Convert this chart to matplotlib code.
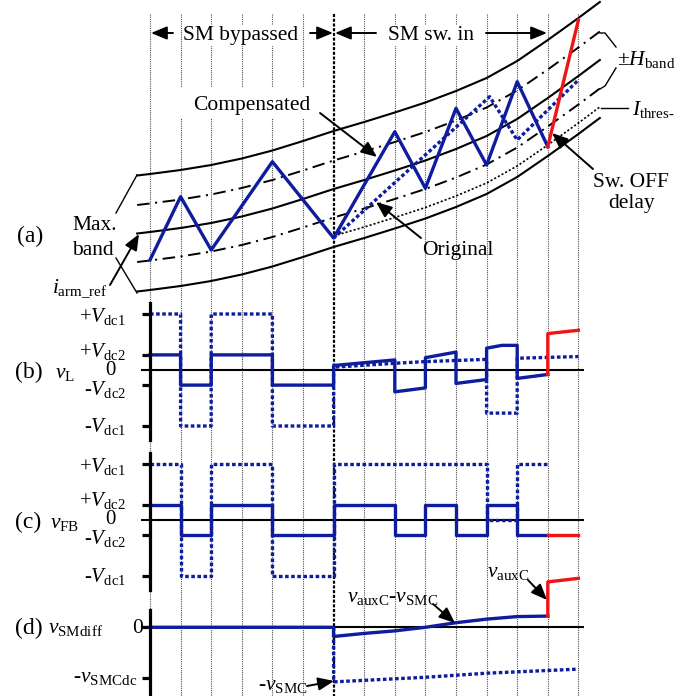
import numpy as np
import matplotlib
matplotlib.use('Agg')
import matplotlib.pyplot as plt
from matplotlib.transforms import Affine2D
from matplotlib.patches import Rectangle

plt.rcParams['font.family'] = ['Liberation Serif', 'DejaVu Serif']
plt.rcParams['mathtext.fontset'] = 'custom'
plt.rcParams['mathtext.rm'] = 'Liberation Serif'
plt.rcParams['mathtext.it'] = 'Liberation Serif:italic'
plt.rcParams['mathtext.bf'] = 'Liberation Serif:bold'
plt.rcParams['mathtext.sf'] = 'Liberation Serif'
plt.rcParams['lines.scale_dashes'] = False

BLUE = '#0E1C9E'
RED = '#F01414'

# ---------------- data ----------------
grid_t = list(range(15))          # switching instants
t_sw_in = 6                        # SM switched in

# (a) arm current (arbitrary units)
ref_t = np.array([-0.42, 0, 1, 2, 3, 4, 5, 6, 7, 8, 9, 10, 11, 12, 13, 14, 14.7])
ref_i = np.array([6.65, 6.8, 7.2, 7.7, 8.35, 9.15, 10.1, 11.1, 12.0, 12.95,
                  13.95, 15.1, 16.4, 18.1, 20.2, 22.4, 24.0])
H_band = 2.85
max_band = 5.8
thres_off = 4.7

comp_t = [0, 1, 2, 4, 6, 8, 9, 10, 11, 12, 13]
comp_i = [4.0, 10.33, 5.0, 13.83, 6.2, 16.83, 11.17, 19.17, 13.5, 21.83, 15.33]
delay_t = [13, 14]
delay_i = [15.33, 28.0]
orig_t = [6, 11.1, 12, 14]
orig_i = [6.2, 20.33, 16.0, 22.0]

# (b) v_L
Vdc1 = 1.0
Vdc2 = 0.27
vL_t = [0, 1, 1, 2, 2, 4, 4, 6, 6, 8, 8, 9, 9, 10, 10, 11, 11, 11.5, 12, 12, 13]
vL_v = [Vdc2, Vdc2, -Vdc2, -Vdc2, Vdc2, Vdc2, -Vdc2, -Vdc2, 0.08, 0.18, -0.39, -0.32,
        0.22, 0.32, -0.24, -0.17, 0.39, 0.44, 0.44, -0.15, -0.08]
vL_red_t = [13, 13, 14]
vL_red_v = [-0.08, 0.65, 0.71]
vL_orig_t = [0, 1, 1, 2, 2, 4, 4, 6, 6, 8, 9, 11, 11, 12, 12, 14]
vL_orig_v = [1, 1, -1, -1, 1, 1, -1, -1, 0.05, 0.12, 0.15, 0.19, -0.77, -0.77, 0.21, 0.24]

# (c) v_FB
vFB_t = [0, 1, 1, 2, 2, 4, 4, 6, 6, 8, 8, 9, 9, 10, 10, 11, 11, 12, 12, 13]
vFB_v = [Vdc2, Vdc2, -Vdc2, -Vdc2, Vdc2, Vdc2, -Vdc2, -Vdc2, Vdc2, Vdc2, -Vdc2, -Vdc2,
         Vdc2, Vdc2, -Vdc2, -Vdc2, Vdc2, Vdc2, -Vdc2, -Vdc2]
vFB_red_t = [13, 14]
vFB_red_v = [-Vdc2, -Vdc2]
vFB_orig_t = [0, 1, 1, 2, 2, 4, 4, 6, 6, 11, 11, 12, 12, 13]
vFB_orig_v = [1, 1, -1, -1, 1, 1, -1, -1, 1, 1, 0, 0, 1, 1]

# (d) v_SMdiff
vSMCdc = 1.0
vd_t = [0, 6, 6, 7, 8, 9, 10, 11, 12, 13]
vd_v = [0, 0, -0.18, -0.12, -0.07, 0.0, 0.09, 0.16, 0.21, 0.22]
vd_red_t = [13, 13, 14]
vd_red_v = [0.22, 0.89, 0.96]
vd_orig_t = [6, 6, 9, 11, 14]
vd_orig_v = [0, -1.07, -0.98, -0.90, -0.82]

# ---------------- figure ----------------
W, H = 698, 696
fig = plt.figure(figsize=(W / 100, H / 100), dpi=100)
px = Affine2D().scale(1 / W, -1 / H).translate(0, 1) + fig.transFigure

X0, DX = 150, 30.6
TL, TR = -X0 / DX, (W - X0) / DX


def make_axes(top, bottom, ylim, z):
    ax = fig.add_axes([0, (H - bottom) / H, 1, (bottom - top) / H], zorder=z)
    ax.set_xlim(TL, TR)
    ax.set_ylim(*ylim)
    ax.patch.set_alpha(0)
    for s in ax.spines.values():
        s.set_visible(False)
    ax.set_xticks([])
    ax.set_yticks([])
    return ax


ax0 = make_axes(0, H, (H, 0), 0)
for t in grid_t:
    if t == t_sw_in:
        ax0.plot([t, t], [14, H], color='k', lw=1.6, ls=(0, (2.2, 1.2)), zorder=2)
    else:
        ax0.plot([t, t], [14, H], color='#505050', lw=0.8, ls=(0, (0.8, 0.8)), zorder=1)
ax0.add_patch(Rectangle((176, 87), 139, 31, transform=px, facecolor='white',
                        edgecolor='none', zorder=3))

LW = 2.4
# ---- (a)
axa = make_axes(0, 300, (0, 30), 2)
kw_dd = dict(color='k', lw=1.4, ls=(0, (9, 4, 1.5, 4)))
axa.plot(ref_t, ref_i + max_band, color='k', lw=1.5)
axa.plot(ref_t, ref_i + H_band, **kw_dd)
axa.plot(ref_t, ref_i, color='k', lw=1.5)
axa.plot(ref_t, ref_i - H_band, **kw_dd)
m = ref_t >= t_sw_in
axa.plot(ref_t[m], ref_i[m] - thres_off, color='k', lw=1.2, ls=(0, (1.5, 1.5)))
axa.plot(ref_t, ref_i - max_band, color='k', lw=1.5)
axa.plot(orig_t, orig_i, color=BLUE, lw=LW, ls=(0, (2.6, 1.8)))
axa.plot(comp_t, comp_i, color=BLUE, lw=LW)
axa.plot(delay_t, delay_i, color=RED, lw=LW)


def vaxis(ax, lo, hi, ticks):
    sp = ax.spines['left']
    sp.set_visible(True)
    sp.set_position(('data', 0))
    sp.set_bounds(lo, hi)
    sp.set_linewidth(2.3)
    ax.set_yticks(ticks)
    ax.set_yticklabels([])
    ax.tick_params(axis='y', direction='out', length=5.8, width=2.3, color='k')
    ax.plot([-0.26, 14.15], [0, 0], color='k', lw=1.5, zorder=1, clip_on=False)


# ---- (b)
axb = make_axes(300, 445, (-75 / 56, 70 / 56), 2)
vaxis(axb, -1.25, 1.196, [Vdc1, Vdc2, -Vdc2, -Vdc1])
axb.plot(vL_orig_t, vL_orig_v, color=BLUE, lw=LW, ls=(0, (2.6, 1.8)), clip_on=False)
axb.plot(vL_t, vL_v, color=BLUE, lw=LW, clip_on=False)
axb.plot(vL_red_t, vL_red_v, color=RED, lw=LW, clip_on=False)

# ---- (c)
axc = make_axes(445, 600, (-80 / 56, 75 / 56), 2)
vaxis(axc, -1.25, 1.196, [Vdc1, Vdc2, -Vdc2, -Vdc1])
axc.plot(vFB_orig_t, vFB_orig_v, color=BLUE, lw=LW, ls=(0, (2.6, 1.8)), clip_on=False)
axc.plot(vFB_t, vFB_v, color=BLUE, lw=LW, clip_on=False)
axc.plot(vFB_red_t, vFB_red_v, color=RED, lw=LW, clip_on=False)

# ---- (d)
axd = make_axes(600, 696, ((627.3 - 696) / 51, (627.3 - 600) / 51), 2)
vaxis(axd, -1.45, 0.34, [0, -vSMCdc])
axd.plot(vd_orig_t, vd_orig_v, color=BLUE, lw=LW, ls=(0, (2.6, 1.8)), clip_on=False)
axd.plot(vd_t, vd_v, color=BLUE, lw=LW, clip_on=False)
axd.plot(vd_red_t, vd_red_v, color=RED, lw=LW, clip_on=False)

# ---------------- annotations ----------------
axt = make_axes(0, H, (H, 0), 5)
FS = 15.5


def T(x, y, s, size=FS, ha='left', va='baseline', box=False):
    kw = {}
    if box:
        kw['bbox'] = dict(facecolor='white', edgecolor='none', pad=1)
    axt.text(x, y, s, transform=px, fontsize=size, ha=ha, va=va, **kw)


def arrow(x1, y1, x2, y2):
    axt.annotate('', xy=(x2, y2), xytext=(x1, y1), xycoords=px, textcoords=px,
                 arrowprops=dict(arrowstyle='-|>,head_length=0.8,head_width=0.33',
                                 mutation_scale=12, color='k', lw=1.4,
                                 shrinkA=0, shrinkB=0))


def line(xs, ys, lw=1.0):
    axt.plot(xs, ys, transform=px, color='k', lw=lw)


T(183, 40, 'SM bypassed', box=True)
arrow(173, 33, 151, 33)
arrow(310, 33, 333, 33)
T(388, 40, 'SM sw. in', box=True)
arrow(376, 33, 335, 33)
arrow(486, 33, 547, 33)

T(193, 110, 'Compensated')
arrow(320, 113, 377, 157)
T(422, 255, 'Original')
arrow(421, 238, 376, 202)
T(593, 187, 'Sw. OFF')
T(608, 208, 'delay')
arrow(593, 169, 552, 133)
T(617, 65, r'$\pm H_{\mathrm{band}}$')
line([600, 605, 616], [33, 33, 47])
line([600, 605, 616], [89, 86, 68])
T(632, 115, r'$I_{\mathrm{thres\text{-}}}$')
line([601, 628], [108, 108])

T(17, 242, '(a)', size=17)
T(72, 230, 'Max.')
T(72, 255, 'band')
line([137, 116], [175, 213])
line([137, 116], [293, 258])
T(52, 293, r'$i_{\mathrm{arm\_ref}}$')
arrow(110, 285, 139, 234)

TF = 15
# (b)
T(15, 378, '(b)', size=17)
T(55, 378, r'$v_{\mathrm{L}}$')
T(126, 322, r'+$V_{\mathrm{dc1}}$', ha='right', size=TF)
T(126, 357, r'+$V_{\mathrm{dc2}}$', ha='right', size=TF)
T(110, 375, '0', ha='center', size=TF)
T(126, 395, r'-$V_{\mathrm{dc2}}$', ha='right', size=TF)
T(126, 432, r'-$V_{\mathrm{dc1}}$', ha='right', size=TF)

# (c)
T(15, 528, '(c)', size=17)
T(50, 528, r'$v_{\mathrm{FB}}$')
T(126, 472, r'+$V_{\mathrm{dc1}}$', ha='right', size=TF)
T(126, 506, r'+$V_{\mathrm{dc2}}$', ha='right', size=TF)
T(110, 524, '0', ha='center', size=TF)
T(126, 544, r'-$V_{\mathrm{dc2}}$', ha='right', size=TF)
T(126, 582, r'-$V_{\mathrm{dc1}}$', ha='right', size=TF)

# (d)
T(15, 634, '(d)', size=17)
T(48, 633, r'$v_{\mathrm{SMdiff}}$')
T(132, 633, '0')
T(137, 682, r'-$v_{\mathrm{SMCdc}}$', ha='right')
T(258, 690, r'-$v_{\mathrm{SMC}}$')
arrow(307, 686, 334, 681)
T(347, 602, r'$v_{\mathrm{auxC}}$-$v_{\mathrm{SMC}}$')
arrow(433, 604, 455, 623)
T(487, 577, r'$v_{\mathrm{auxC}}$')
arrow(528, 580, 547, 600)

fig.savefig('out.png', dpi=100)
